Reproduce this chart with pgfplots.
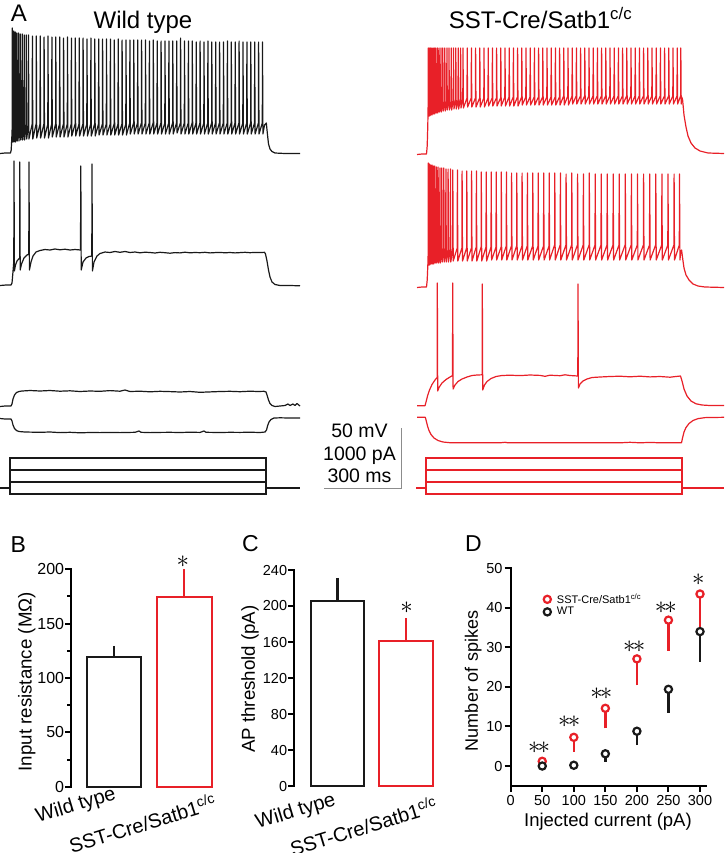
\documentclass[border=0pt]{standalone}
\usepackage{pgfplots}
\pgfplotsset{compat=1.18}
\usepackage{fontspec}
\setmainfont{Liberation Sans}
\definecolor{trred}{RGB}{232,32,40}
\definecolor{trblk}{RGB}{25,25,25}
\definecolor{sbgray}{RGB}{140,140,140}
\newcommand{\fs}[1]{\fontsize{#1}{#1}\selectfont}
\pgfplotsset{
  trace/.style={line width=1.2pt, line join=round, no marks},
  stepc/.style={line width=2pt, no marks, line join=miter},
  panel/.style={scale only axis, clip=false,
    axis line style={line width=2.2pt, line cap=rect},
    tick style={line width=2pt, black},
    major tick length=6pt, minor tick length=4pt, tick align=outside,
    /pgf/number format/assume math mode=true},
  barerr/.style={error bars/.cd, y dir=plus, y explicit, error mark=-,
    error bar style={line width=2.2pt, #1},
    error mark options={line width=2.2pt, mark size=3pt, #1}},
}
\begin{document}
\begin{tikzpicture}
\useasboundingbox (0pt,0pt) rectangle (724pt,-853pt);

% ---------------- panel A : traces, pixel frame ----------------
\begin{axis}[at={(0pt,0pt)}, anchor=north west, width=724pt, height=530pt,
  scale only axis, hide axis, clip=false,
  xmin=0, xmax=724, ymin=0, ymax=530, y dir=reverse]
% wild type, top trace
\addplot[trace, trblk] coordinates {
(0,153.5)(5,153)(10.5,153)(11.2,150)(11.8,138)
(12.1,130)(12.3,28)(12.7,142)(13.5,129)(13.7,31)(14.1,142)
(15.0,128)(15.2,32)(15.6,142)(16.6,127)(16.8,33)(17.2,141)
(18.3,127)(18.5,33)(18.9,141)(20.1,126)(20.3,34)(20.7,140)
(22.0,126)(22.2,34)(22.6,140)(24.0,125)(24.2,35)(24.6,140)
(26.1,125)(26.3,35)(26.7,139)(28.3,125)(28.5,35)(28.9,139)
(32.2,124)(32.4,36)(32.8,139)(36.1,124)(36.3,36)(36.7,138)
(40.0,124)(40.2,36)(40.6,138)(43.9,124)(44.1,37)(44.5,138)
(47.8,124)(48.0,36)(48.4,138)(51.7,124)(51.9,37)(52.3,137)
(55.6,124)(55.8,37)(56.2,137)(59.5,124)(59.7,37)(60.1,137)
(63.4,124)(63.6,38)(64.0,137)(67.3,124)(67.5,37)(67.9,137)
(71.2,124)(71.4,38)(71.8,136)(75.1,124)(75.3,38)(75.7,136)
(79.0,124)(79.2,38)(79.6,136)(82.9,124)(83.1,38)(83.5,136)
(86.8,124)(87.0,39)(87.4,136)(90.7,124)(90.9,38)(91.3,136)
(94.6,124)(94.8,39)(95.2,136)(98.5,124)(98.7,39)(99.1,135)
(102.4,124)(102.6,39)(103.0,135)(106.3,124)(106.5,39)(106.9,135)
(110.2,124)(110.4,39)(110.8,135)(114.1,124)(114.3,40)(114.7,135)
(118.0,124)(118.2,39)(118.6,135)(121.9,124)(122.1,40)(122.5,135)
(125.8,124)(126.0,40)(126.4,135)(129.7,123)(129.9,40)(130.3,134)
(133.6,123)(133.8,40)(134.2,134)(137.5,123)(137.7,40)(138.1,134)
(141.4,123)(141.6,40)(142.0,134)(145.3,123)(145.5,40)(145.9,134)
(149.2,123)(149.4,41)(149.8,134)(153.1,123)(153.3,40)(153.7,134)
(157.0,123)(157.2,41)(157.6,134)(160.9,123)(161.1,41)(161.5,134)
(164.8,123)(165.0,41)(165.4,134)(168.7,123)(168.9,41)(169.3,134)
(172.6,123)(172.8,41)(173.2,134)(176.5,123)(176.7,41)(177.1,133)
(180.4,123)(180.6,38)(181.0,134)(184.3,123)(184.5,41)(184.9,134)
(188.2,123)(188.4,41)(188.8,134)(192.1,123)(192.3,41)(192.7,134)
(196.0,123)(196.2,42)(196.6,134)(199.9,123)(200.1,41)(200.5,134)
(203.8,123)(204.0,42)(204.4,134)(207.7,123)(207.9,41)(208.3,134)
(211.6,123)(211.8,42)(212.2,134)(215.5,123)(215.7,42)(216.1,134)
(219.4,123)(219.6,42)(220.0,134)(223.3,123)(223.5,42)(223.9,134)
(227.2,123)(227.4,41)(227.8,134)(231.1,123)(231.3,42)(231.7,134)
(235.0,123)(235.2,42)(235.6,134)(238.9,123)(239.1,41)(239.5,134)
(242.8,123)(243.0,42)(243.4,134)(246.7,123)(246.9,42)(247.3,134)
(250.6,123)(250.8,42)(251.2,134)(254.5,123)(254.7,42)(255.1,134)
(258.4,123)(258.6,42)(259.0,134)(262.3,123)(262.5,42)(262.9,134)
(264.5,125)(266.3,123)(267.3,133)(268.5,144)(270,149)(272,151.5)
(275,153)(285,153.5)(300,153.5)};
% wild type, second trace
\addplot[trace, trblk] coordinates {
(0,285.5)(6,285)(11,285)(12,283)(12.8,274)(13.6,264)(13.8,263)(14,161)(14.4,271)
(15.5,265)(17,261)(19.6,258)(19.8,162)(20.2,270)(21.5,264)(24,258)(27,255)
(28.8,254)(29,162)(29.4,270)(31,262)(33,256)(36,252)(40,250.5)(45,249.5)
(50,250)(55,249)(60,249.8)(65,249.2)(70,250)(75,249.5)(80.5,250)(80.8,166)
(81.2,270)(83,262)(86,258)(89,256.5)(91.8,256)(92,164)(92.4,271)(94,262)
(97,256)(100,253.5)(105,252)(110,252.5)(115,251.5)(120,252.3)(125,251.5)
(130,252.5)(135,252)(140,252.8)(145,252.2)(150,252.5)(155,253)(160,252.3)
(165,252.7)(170,253.2)(175,252.6)(180,252.9)(185,252.2)(190,252.8)(195,252.5)
(200,252.7)(205,252.3)(210,252.9)(215,252.6)(220,252.4)(225,252.8)(230,252.5)
(235,252.9)(240,252.6)(245,252.3)(250,252.7)(255,252.4)(260,252.6)(264.5,252.3)
(265.5,254)(267,261)(268.5,270)(270,277)(272,282)(275,284.5)(280,285.5)
(290,285.5)(300,285.8)};
% wild type, small depolarisation
\addplot[trace, trblk] coordinates {
(0,406.5)(5,406)(11,406)(12,404)(13,399)(14.5,395)(16.5,392.5)(19,391.5)
(22,391)(30,390.5)(40,391)(50,390.5)(60,391.2)(70,390.8)(80,391.5)(90,391)
(100,391.3)(110,390.6)(120,391.2)(125,390)(130,391.5)(140,391.2)(150,391.8)
(160,391.3)(170,391.6)(180,392)(190,391.5)(200,392.3)(210,391.9)(220,391.5)
(230,391.3)(240,391.7)(250,391.2)(258,391.5)(264,391.3)(266,392)(267,395)
(268.5,400)(270,403.5)(272,405.5)(275,406.5)(280,406)(285,405.5)(288,404)
(290,405.5)(293,404)(295,405.5)(297,403.5)(300,406)};
% wild type, hyperpolarisation
\addplot[trace, trblk] coordinates {
(0,418.5)(5,419)(11,419)(12,421)(13,425)(14.5,428.5)(16.5,430.5)(19,431.5)
(25,432)(40,432.3)(50,432)(60,432.6)(70,432.3)(80,432.8)(90,432.5)(100,432.6)
(110,432.4)(120,432.6)(135,432.3)(139,431)(141,432.3)(150,432.6)(160,432.4)
(170,432.3)(180,432.5)(190,432.2)(200,432.4)(204,431)(206,432.3)(220,432.5)
(230,432.3)(240,432.4)(250,432.2)(260,432.5)(265,432)(266.5,430)(267.5,426)
(269,422)(271,419.5)(274,418)(280,417.8)(290,418)(300,418)};
% wild type, current steps
\addplot[stepc, trblk] coordinates {(0,487.7)(10.3,487.7)(10.3,457.7)(266,457.7)(266,487.7)(300,487.7)};
\addplot[stepc, trblk] coordinates {(10.3,487.7)(10.3,470)(266,470)(266,487.7)};
\addplot[stepc, trblk] coordinates {(10.3,487.7)(10.3,482)(266,482)(266,487.7)};
\addplot[stepc, trblk] coordinates {(10.3,487.7)(10.3,494)(266,494)(266,487.7)};

% SST-Cre/Satb1 c/c, top trace
\addplot[trace, trred] coordinates {
(417,154.5)(422,154)(426.5,154)(427.2,146)(427.8,125)
(428.1,107)(428.3,48)(428.7,116)(429.1,107)(429.3,48)(429.7,116)
(430.2,106)(430.4,48)(430.8,115)(431.4,106)(431.6,48)(432.0,115)
(432.7,105)(432.9,48)(433.3,114)(434.1,105)(434.3,48)(434.7,114)
(435.6,104)(435.8,48)(436.2,113)(437.2,104)(437.4,48)(437.8,113)
(438.9,103)(439.1,48)(439.5,112)(440.7,103)(440.9,48)(441.3,112)
(442.6,102)(442.8,48)(443.2,111)(444.6,102)(444.8,48)(445.2,111)
(446.7,101)(446.9,48)(447.3,110)(448.8,101)(449.0,48)(449.4,110)
(451.0,101)(451.2,48)(451.6,110)(453.3,100)(453.5,48)(453.9,109)
(455.6,100)(455.8,48)(456.2,109)(458.0,100)(458.2,48)(458.6,109)
(460.4,99)(460.6,48)(461.0,108)(462.8,99)(463.0,48)(463.4,108)
(467.0,98)(467.2,48)(467.6,107)(471.2,98)(471.4,48)(471.8,107)
(475.4,98)(475.6,48)(476.0,107)(479.6,98)(479.8,48)(480.2,107)
(483.8,98)(484.0,48)(484.4,107)(488.0,98)(488.2,48)(488.6,106)
(492.2,98)(492.4,48)(492.8,106)(496.4,98)(496.6,48)(497.0,106)
(500.6,98)(500.8,48)(501.2,106)(504.8,97)(505.0,48)(505.4,106)
(509.0,97)(509.2,48)(509.6,106)(513.2,97)(513.4,48)(513.8,106)
(517.4,97)(517.6,48)(518.0,106)(521.6,97)(521.8,48)(522.2,105)
(525.8,97)(526.0,48)(526.4,105)(530.0,97)(530.2,48)(530.6,105)
(534.2,97)(534.4,48)(534.8,105)(538.4,97)(538.6,48)(539.0,105)
(542.6,97)(542.8,48)(543.2,105)(546.8,97)(547.0,48)(547.4,105)
(551.0,97)(551.2,48)(551.6,105)(555.2,97)(555.4,48)(555.8,105)
(559.4,97)(559.6,48)(560.0,105)(563.6,96)(563.8,48)(564.2,105)
(567.8,96)(568.0,48)(568.4,105)(572.0,96)(572.2,48)(572.6,104)
(576.2,96)(576.4,48)(576.8,104)(580.4,96)(580.6,48)(581.0,104)
(584.6,96)(584.8,48)(585.2,104)(588.8,96)(589.0,48)(589.4,104)
(593.0,96)(593.2,48)(593.6,104)(597.2,96)(597.4,48)(597.8,104)
(601.4,96)(601.6,48)(602.0,104)(605.6,96)(605.8,48)(606.2,104)
(609.8,96)(610.0,48)(610.4,104)(614.0,96)(614.2,48)(614.6,104)
(618.2,96)(618.4,48)(618.8,104)(622.4,96)(622.6,48)(623.0,104)
(626.6,96)(626.8,48)(627.2,104)(630.8,96)(631.0,48)(631.4,104)
(635.0,96)(635.2,48)(635.6,104)(639.2,96)(639.4,48)(639.8,104)
(643.4,96)(643.6,48)(644.0,104)(647.6,96)(647.8,48)(648.2,104)
(651.8,96)(652.0,48)(652.4,104)(656.0,96)(656.2,48)(656.6,104)
(660.2,96)(660.4,48)(660.8,104)(664.4,96)(664.6,48)(665.0,104)
(668.6,96)(668.8,48)(669.2,104)(672.8,96)(673.0,48)(673.4,104)
(677.0,96)(677.2,48)(677.6,104)(680.6,96)(680.8,48)(681.2,104)
(681.8,97)(682.6,100)(684,115)(686,127)(688,136)(691,143)(695,148)
(700,151)(708,153)(724,153.5)};
% SST-Cre/Satb1 c/c, second trace
\addplot[trace, trred] coordinates {
(417,287.5)(422,287)(426.5,287)(427.2,280)(427.8,266)
(428.1,256)(428.3,163)(428.7,265)(429.2,255)(429.4,164)(429.8,265)
(430.4,254)(430.6,165)(431.0,264)(431.7,254)(431.9,165)(432.3,264)
(433.1,253)(433.3,166)(433.7,264)(434.6,253)(434.8,166)(435.2,263)
(436.2,252)(436.4,167)(436.8,263)(437.9,252)(438.1,167)(438.5,263)
(439.7,251)(439.9,168)(440.3,263)(441.6,251)(441.8,168)(442.2,262)
(443.6,250)(443.8,168)(444.2,262)(445.7,250)(445.9,169)(446.3,262)
(447.9,250)(448.1,169)(448.5,262)(450.2,249)(450.4,169)(450.8,262)
(452.6,249)(452.8,170)(453.2,261)(457.2,248)(457.4,170)(457.8,261)
(461.9,248)(462.1,171)(462.5,261)(466.6,248)(466.8,171)(467.2,261)
(471.4,248)(471.6,171)(472.0,261)(476.2,247)(476.4,171)(476.8,261)
(481.1,247)(481.3,172)(481.7,261)(486.0,247)(486.2,172)(486.6,261)
(491.0,247)(491.2,172)(491.6,260)(496.0,247)(496.2,172)(496.6,260)
(501.1,247)(501.3,172)(501.7,260)(506.2,246)(506.4,172)(506.8,260)
(511.4,246)(511.6,173)(512.0,260)(516.6,246)(516.8,173)(517.2,260)
(521.9,246)(522.1,173)(522.5,260)(527.2,246)(527.4,173)(527.8,260)
(532.6,246)(532.8,173)(533.2,260)(538.0,246)(538.2,173)(538.6,260)
(543.5,246)(543.7,173)(544.1,260)(549.0,246)(549.2,173)(549.6,260)
(554.6,245)(554.8,173)(555.2,260)(560.2,245)(560.4,173)(560.8,260)
(565.9,245)(566.1,174)(566.5,260)(571.6,245)(571.8,173)(572.2,260)
(577.4,245)(577.6,174)(578.0,260)(583.2,245)(583.4,174)(583.8,260)
(589.1,245)(589.3,173)(589.7,260)(595.0,245)(595.2,174)(595.6,260)
(601.0,245)(601.2,174)(601.6,260)(607.0,245)(607.2,174)(607.6,260)
(613.0,245)(613.2,174)(613.6,260)(619.0,245)(619.2,174)(619.6,260)
(625.1,245)(625.3,174)(625.7,260)(631.2,245)(631.4,174)(631.8,260)
(637.3,245)(637.5,174)(637.9,260)(643.4,245)(643.6,174)(644.0,260)
(649.5,245)(649.7,174)(650.1,260)(655.6,245)(655.8,174)(656.2,260)
(661.7,245)(661.9,174)(662.3,260)(667.8,245)(668.0,174)(668.4,260)
(673.9,245)(674.1,174)(674.5,260)(679.3,245)(679.5,174)(679.9,260)
(680.9,251)(681.6,250)(682.6,258)(684,268)(686,275)(689,280)(693,284)
(698,286)(705,287)(724,287.5)};
% SST-Cre/Satb1 c/c, four spikes
\addplot[trace, trred] coordinates {
(417,405.7)(425,405.7)(426,402)(427.5,396)(429.5,390)(432,384.5)(435,380)
(437.1,377.5)(437.3,283)(437.7,391)(439,387.5)(442,383)(446,379.5)(450,377)
(452.5,375.5)(452.7,283)(453.1,389)(455,385)(458,381.5)(462,379)(467,377)
(472,375.5)(477,375)(482.1,374.8)(482.3,284)(482.7,390)(484.5,385)(487,381.5)
(491,378.5)(496,376.5)(502,375.5)(510,375.2)(520,375.6)(530,375)(540,375.4)
(545,376.3)(550,375.2)(560,375.7)(565,374.8)(570,375.5)(577.8,376)(578,284)
(578.4,388)(580,384)(583,381)(587,379)(592,377.5)(600,377)(610,376.5)
(620,376.2)(630,376.8)(640,376.2)(650,376.9)(660,376.5)(670,377.2)(675,376.6)
(680.5,376)(682,381)(684,389)(687,396)(691,401)(696,403.8)(702,405)(710,405.5)
(724,405.5)};
% SST-Cre/Satb1 c/c, hyperpolarisation
\addplot[trace, trred] coordinates {
(417,417.3)(425.3,417.3)(426.3,421)(427.5,426)(429,430.5)(431,434.5)(434,438)
(438,440.5)(443,442)(450,442.7)(460,442.8)(500,442.8)(505,442.3)(508,442.8)
(560,442.8)(620,442.8)(630,442.3)(640,442.8)(650,442.4)(660,442.8)(681.5,442.8)
(682.5,438)(684,432)(686,427.5)(689,423.5)(693,420.5)(698,418.6)(705,417.6)
(724,417.3)};
% SST-Cre/Satb1 c/c, current steps
\addplot[stepc, trred] coordinates {(416,487.7)(425.7,487.7)(425.7,457.7)(682,457.7)(682,487.7)(724,487.7)};
\addplot[stepc, trred] coordinates {(425.7,487.7)(425.7,470)(682,470)(682,487.7)};
\addplot[stepc, trred] coordinates {(425.7,487.7)(425.7,482)(682,482)(682,487.7)};
\addplot[stepc, trred] coordinates {(425.7,487.7)(425.7,494)(682,494)(682,487.7)};
% scale bar
\addplot[sbgray, line width=0.9pt, no marks] coordinates {(324,488)(401,488)(401,428)};
\end{axis}

\node[font=\fs{24}] at (19pt,-13pt) {A};
\node[font=\fs{24}, anchor=base] at (143pt,-29pt) {Wild type};
\node[font=\fs{24}, anchor=base] at (540.5pt,-29pt) {SST-Cre/Satb1\textsuperscript{c/c}};
\node[font=\fs{19.5}, anchor=base] at (359.5pt,-437.3pt) {50 mV};
\node[font=\fs{19.5}, anchor=base] at (359.5pt,-460.7pt) {1000 pA};
\node[font=\fs{19.5}, anchor=base] at (359.5pt,-482.7pt) {300 ms};

% ---------------- panel B ----------------
\begin{axis}[panel, at={(71.3pt,-786.7pt)}, anchor=south west,
  width=143.7pt, height=217.4pt,
  xmin=-0.615, xmax=1.44, ymin=0, ymax=200,
  axis y line*=left, axis x line=none,
  ytick={0,50,100,150,200}, minor ytick={25,75,125,175},
  yticklabel style={font=\fs{16}, inner xsep=1pt},
  ylabel={Input resistance (MΩ)},
  ylabel style={font=\fs{18.7}, at={(axis description cs:-0.31,0.483)}, anchor=center}]
\addplot[ybar, bar width=54pt, bar shift=0pt, draw=trblk, fill=white, line width=2.2pt,
  barerr=trblk] coordinates {(0,119) +- (0,7.7)};
\addplot[ybar, bar width=55pt, bar shift=0pt, draw=trred, fill=white, line width=2.2pt,
  barerr=trred] coordinates {(1,174.2) +- (0,23)};
\node[font=\fs{28}] at (axis cs:0.979,207) {$\ast$};
\end{axis}
\node[font=\fs{23}] at (18.3pt,-545pt) {B};
\node[font=\fs{20}, rotate=17] at (76pt,-806pt) {Wild type};
\node[font=\fs{20}, rotate=17] at (142.3pt,-823pt) {SST-Cre/Satb1\textsuperscript{c/c}};

% ---------------- panel C ----------------
\begin{axis}[panel, at={(294.3pt,-786pt)}, anchor=south west,
  width=141.7pt, height=216pt,
  xmin=-0.626, xmax=1.43, ymin=0, ymax=240,
  axis y line*=left, axis x line=none,
  ytick={0,40,...,240},
  yticklabel style={font=\fs{14.5}, inner xsep=1pt},
  ylabel={AP threshold (pA)},
  ylabel style={font=\fs{18.7}, at={(axis description cs:-0.313,0.495)}, anchor=center}]
\addplot[ybar, bar width=53.5pt, bar shift=0pt, draw=trblk, fill=white, line width=2.2pt,
  barerr=trblk] coordinates {(0,205.9) +- (0,22.1)};
\addplot[ybar, bar width=54pt, bar shift=0pt, draw=trred, fill=white, line width=2.2pt,
  barerr=trred] coordinates {(1,161.4) +- (0,21.9)};
\node[font=\fs{28}] at (axis cs:1.005,197.8) {$\ast$};
\end{axis}
\node[font=\fs{23}] at (250.5pt,-544pt) {C};
\node[font=\fs{20}, rotate=17] at (295.8pt,-812pt) {Wild type};
\node[font=\fs{20}, rotate=17] at (363.3pt,-826pt) {SST-Cre/Satb1\textsuperscript{c/c}};

% ---------------- panel D ----------------
\begin{axis}[panel, at={(510.7pt,-785.8pt)}, anchor=south west,
  width=195.3pt, height=217.5pt,
  xmin=0, xmax=309.5, ymin=-5, ymax=50,
  axis x line*=bottom, axis y line*=left,
  xtick={0,50,...,300}, ytick={0,10,...,50},
  ticklabel style={font=\fs{14.5}},
  yticklabel style={inner xsep=2pt},
  xlabel={Injected current (pA)}, ylabel={Number of spikes},
  xlabel style={font=\fs{18.5}, at={(axis description cs:0.498,-0.165)}, anchor=center},
  ylabel style={font=\fs{18}, at={(axis description cs:-0.1915,0.482)}, anchor=center},
  legend style={at={(0.168,0.886)}, anchor=north west, draw=none, fill=none,
    font=\fs{11}, inner sep=0pt, row sep=1.5pt, column sep=4pt,
    nodes={inner xsep=2pt, inner ysep=0.5pt}},
  legend cell align=left,
  legend image code/.code={\draw[#1] plot coordinates {(4.5pt,0pt)};}]
\addplot[only marks, mark=none, forget plot, error bars/.cd, y dir=minus, y explicit,
  error mark=-, error bar style={line width=2.4pt, trred},
  error mark options={line width=2.4pt, mark size=3.5pt, trred}]
  coordinates {(50,1.2) +- (0,0.2) (100,7.26) +- (0,2.76) (150,14.6) +- (0,4.2)
  (200,27.1) +- (0,5.8) (250,36.9) +- (0,6.9) (300,43.5) +- (0,7.8)};
\addplot[only marks, mark=none, forget plot, error bars/.cd, y dir=minus, y explicit,
  error mark=-, error bar style={line width=2.4pt, trblk},
  error mark options={line width=2.4pt, mark size=3.5pt, trblk}]
  coordinates {(50,0) +- (0,0) (100,0.2) +- (0,0) (150,3.1) +- (0,1.1)
  (200,8.8) +- (0,2.6) (250,19.4) +- (0,5.0) (300,34.0) +- (0,6.8)};
\addplot[only marks, mark=*, mark size=3.6pt, mark options={draw=trred, fill=white, line width=2.2pt}]
  coordinates {(50,1.2) (100,7.26) (150,14.6) (200,27.1) (250,36.9) (300,43.5)};
\addlegendentry{SST-Cre/Satb1\textsuperscript{c/c}}
\addplot[only marks, mark=*, mark size=3.6pt, mark options={draw=trblk, fill=white, line width=2.2pt}]
  coordinates {(50,0) (100,0.2) (150,3.1) (200,8.8) (250,19.4) (300,34.0)};
\addlegendentry{WT}
\node[font=\fs{24}] at (axis cs:45,4.55) {$\ast\mkern-2mu\ast$};
\node[font=\fs{24}] at (axis cs:92.7,11.1) {$\ast\mkern-2mu\ast$};
\node[font=\fs{24}] at (axis cs:143.6,18.2) {$\ast\mkern-2mu\ast$};
\node[font=\fs{24}] at (axis cs:195.7,30.2) {$\ast\mkern-2mu\ast$};
\node[font=\fs{24}] at (axis cs:245.8,40.0) {$\ast\mkern-2mu\ast$};
\node[font=\fs{24}] at (axis cs:297.4,47.0) {$\ast$};
\end{axis}
\node[font=\fs{23}] at (473.3pt,-544pt) {D};
\end{tikzpicture}
\end{document}
